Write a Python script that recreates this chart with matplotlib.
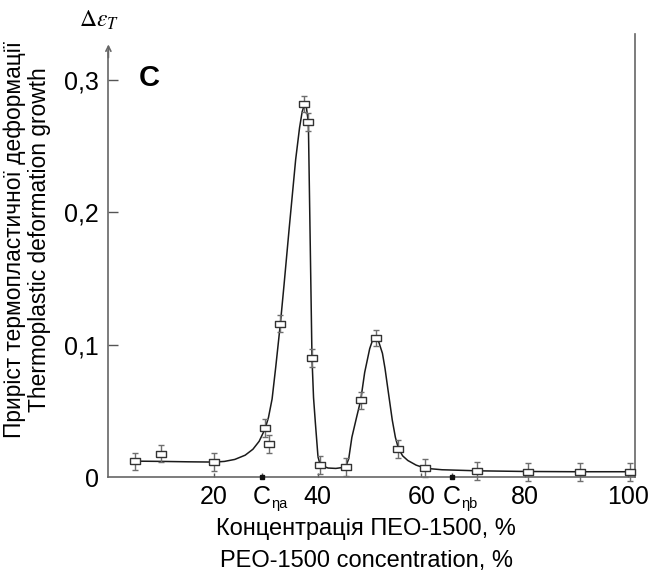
import matplotlib
matplotlib.use("Agg")
import matplotlib.pyplot as plt

plt.rcParams['font.family'] = ['Liberation Sans', 'DejaVu Sans']
plt.rcParams['mathtext.fontset'] = 'stix'

# measured points (PEO-1500 concentration, %) and thermoplastic deformation growth
conc = [4.8, 9.7, 20.0, 29.8, 30.6, 32.8, 37.4, 38.2, 38.9, 40.5, 45.4,
        48.3, 51.2, 55.6, 60.8, 70.8, 80.6, 90.6, 100.2]
growth = [0.012, 0.0177, 0.0113, 0.037, 0.0252, 0.116, 0.282, 0.268, 0.090,
          0.009, 0.0075, 0.058, 0.105, 0.0215, 0.0065, 0.0045, 0.0038,
          0.0035, 0.0038]
err = [0.0065, 0.0065, 0.0067, 0.0065, 0.0068, 0.0065, 0.006, 0.0068, 0.0065,
       0.0068, 0.0068, 0.0066, 0.0062, 0.0068, 0.0068, 0.0068, 0.0068,
       0.0068, 0.0068]

# smooth fitted curve as drawn in the figure
curve_x = [4.8, 10, 15, 20, 22, 24, 26, 27.5, 28.7, 29.8, 30.5, 31.2, 31.9,
           32.8, 33.5, 34.5, 35.75, 36.5, 37.0, 37.4, 37.8, 38.2, 38.5, 38.9,
           39.2, 39.56, 40.06, 40.5, 42, 43.5, 45.4, 46.0, 46.6, 47.5, 48.3,
           49.07, 50.04, 50.6, 51.2, 51.8, 52.5, 53.0, 53.57, 54.4, 55.0,
           55.6, 56.4, 57.4, 59.0, 60.8, 64, 70.8, 80, 90, 100.2]
curve_y = [0.012, 0.0118, 0.0115, 0.0113, 0.0118, 0.0133, 0.0165, 0.021,
           0.027, 0.036, 0.045, 0.059, 0.083, 0.116, 0.145, 0.188, 0.240,
           0.264, 0.276, 0.281, 0.280, 0.268, 0.192, 0.090, 0.060, 0.0406,
           0.0153, 0.009, 0.0068, 0.0065, 0.0075, 0.014, 0.030, 0.045, 0.058,
           0.079, 0.097, 0.1035, 0.105, 0.102, 0.0935, 0.082, 0.066, 0.043,
           0.030, 0.0215, 0.016, 0.0125, 0.009, 0.0066, 0.0055, 0.0047,
           0.0042, 0.0040, 0.0040]

c_eta_a = 29.2
c_eta_b = 65.9
xticks = [20, 40, 60, 80, 100]
yticks = [0, 0.1, 0.2, 0.3]
ytick_labels = ['0', '0,1', '0,2', '0,3']

fig = plt.figure(figsize=(6.53, 5.78), dpi=100)
ax = fig.add_axes([0.166, 0.1747, 0.806, 0.7668])

ax.plot(curve_x, curve_y, color='#1a1a1a', lw=1.1, zorder=2)
rect = [(-1, -0.7), (1, -0.7), (1, 0.7), (-1, 0.7), (-1, -0.7)]
ax.errorbar(conc, growth, yerr=err, fmt='none', ecolor='#6e6e6e',
            elinewidth=1.0, capsize=2.5, capthick=1.0, clip_on=False, zorder=3)
ax.plot(conc, growth, ls='none', marker=rect, ms=7, mfc='white',
        mec='#333333', mew=1.0, clip_on=False, zorder=4)

ax.set_xlim(-0.4, 101.2)
ax.set_ylim(0, 0.335)

ax.spines['top'].set_visible(False)
for s in ['left', 'bottom', 'right']:
    ax.spines[s].set_color('#666666')
    ax.spines[s].set_linewidth(1.2)
ax.spines['left'].set_bounds(0, 0.322)
ax.annotate('', xy=(0, 0.327), xytext=(0, 0.317),
            xycoords=('axes fraction', 'data'),
            arrowprops=dict(arrowstyle='->', color='#666666', lw=1.2,
                            mutation_scale=9, shrinkA=0, shrinkB=0))

ax.set_yticks(yticks)
ax.set_yticklabels(ytick_labels)
ax.tick_params(axis='y', direction='in', length=7, width=1.0, color='#555555',
               labelsize=18, pad=7)
ax.set_xticks(xticks + [c_eta_a, c_eta_b])
ax.set_xticklabels([str(t) for t in xticks] + ['C', 'C'])
ax.tick_params(axis='x', direction='in', length=3, width=1.0, color='#555555',
               labelsize=18, pad=6)
ax.yaxis.get_major_ticks()[0].tick1line.set_visible(False)

# subscripts for the C labels and the dots on the axis
for xc, sub in [(c_eta_a, 'ηa'), (c_eta_b, 'ηb')]:
    ax.plot([xc], [0], marker='s', ms=2.5, color='#111111', clip_on=False,
            zorder=5)
    ax.annotate(sub, xy=(xc, 0), xycoords='data', xytext=(6.5, -22.5),
                textcoords='offset points', fontsize=10.5, ha='left',
                va='baseline')

ax.text(0.077, 0.900, 'C', transform=ax.transAxes, fontsize=21,
        fontweight='bold', ha='center', va='center')
fig.text(99 / 653, 1 - 20 / 578, r'$\Delta\varepsilon_T$', fontsize=17,
         ha='center', va='center')

fig.text(27 / 653, 1 - 240 / 578,
         'Приріст термопластичної деформації\nThermoplastic deformation growth',
         rotation=90, fontsize=16.4, ha='center', va='center',
         multialignment='center', linespacing=1.15)
fig.text(366 / 653, 1 - 545 / 578,
         'Концентрація ПЕО-1500, %\nPEO-1500 concentration, %',
         fontsize=17, ha='center', va='center', multialignment='center',
         linespacing=1.6)

fig.savefig('out.png', dpi=100)
